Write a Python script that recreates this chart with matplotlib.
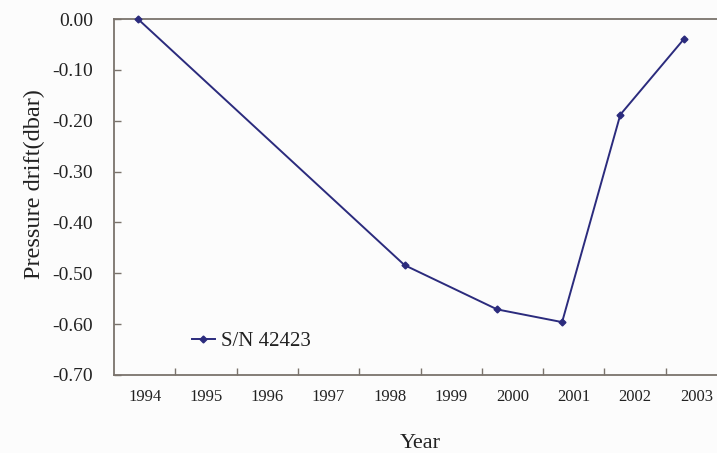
import matplotlib
matplotlib.use("Agg")
import matplotlib.pyplot as plt
import numpy as np

# survey dates (decimal year) and drift values
dates = [1994.39, 1998.74, 2000.25, 2001.31, 2002.26, 2003.30]
drift = [0.00, -0.484, -0.571, -0.596, -0.188, -0.039]
years = list(range(1994, 2004))
yticks = [0.0, -0.1, -0.2, -0.3, -0.4, -0.5, -0.6, -0.7]
series_name = "S/N 42423"

plt.rcParams["font.family"] = ["Liberation Serif", "DejaVu Serif"]

fig = plt.figure(figsize=(7.17, 4.53), dpi=100, facecolor="#fcfcfc")
ax = fig.add_axes([114/717, 1-375/453, 613/717, 356/453])
ax.set_facecolor("#fcfcfc")

ax.plot(dates, drift, color="#2b2b7d", linewidth=1.4, marker="D", markersize=3.5,
        label=series_name, clip_on=False, zorder=5)

ax.set_xlim(1994, 2004)
ax.set_ylim(-0.7, 0.0)

# year labels sit between the tick marks
ax.set_xticks(years[1:])
ax.set_xticklabels([])
ax.set_xticks([y + 0.5 for y in years], minor=True)
ax.set_xticklabels([str(y) for y in years], minor=True, fontsize=12, color="#222222")
ax.tick_params(axis="x", which="major", direction="in", length=5, width=1, color="#7a736c")
ax.tick_params(axis="x", which="minor", length=0, pad=10)

ax.set_yticks(yticks)
ax.set_yticklabels(["%.2f" % v if v != 0 else "0.00" for v in yticks], fontsize=14, color="#222222")
ax.tick_params(axis="y", direction="in", length=5, width=1, color="#7a736c", pad=15)

for side in ["left", "bottom", "top"]:
    ax.spines[side].set_color("#7a736c")
    ax.spines[side].set_linewidth(1.3)
ax.spines["right"].set_visible(False)

ax.set_xlabel("Year", fontsize=16, color="#222222", labelpad=21)
ax.set_ylabel("Pressure drift(dbar)", fontsize=17.5, color="#222222")
ax.yaxis.set_label_coords(-0.113, 0.537)

ax.legend(loc="center left", bbox_to_anchor=(0.127, 0.0955), frameon=False,
          fontsize=15, handlelength=1.1, handletextpad=0.3, borderpad=0,
          borderaxespad=0, labelcolor="#222222")

fig.savefig("out.png", dpi=100, facecolor=fig.get_facecolor())
